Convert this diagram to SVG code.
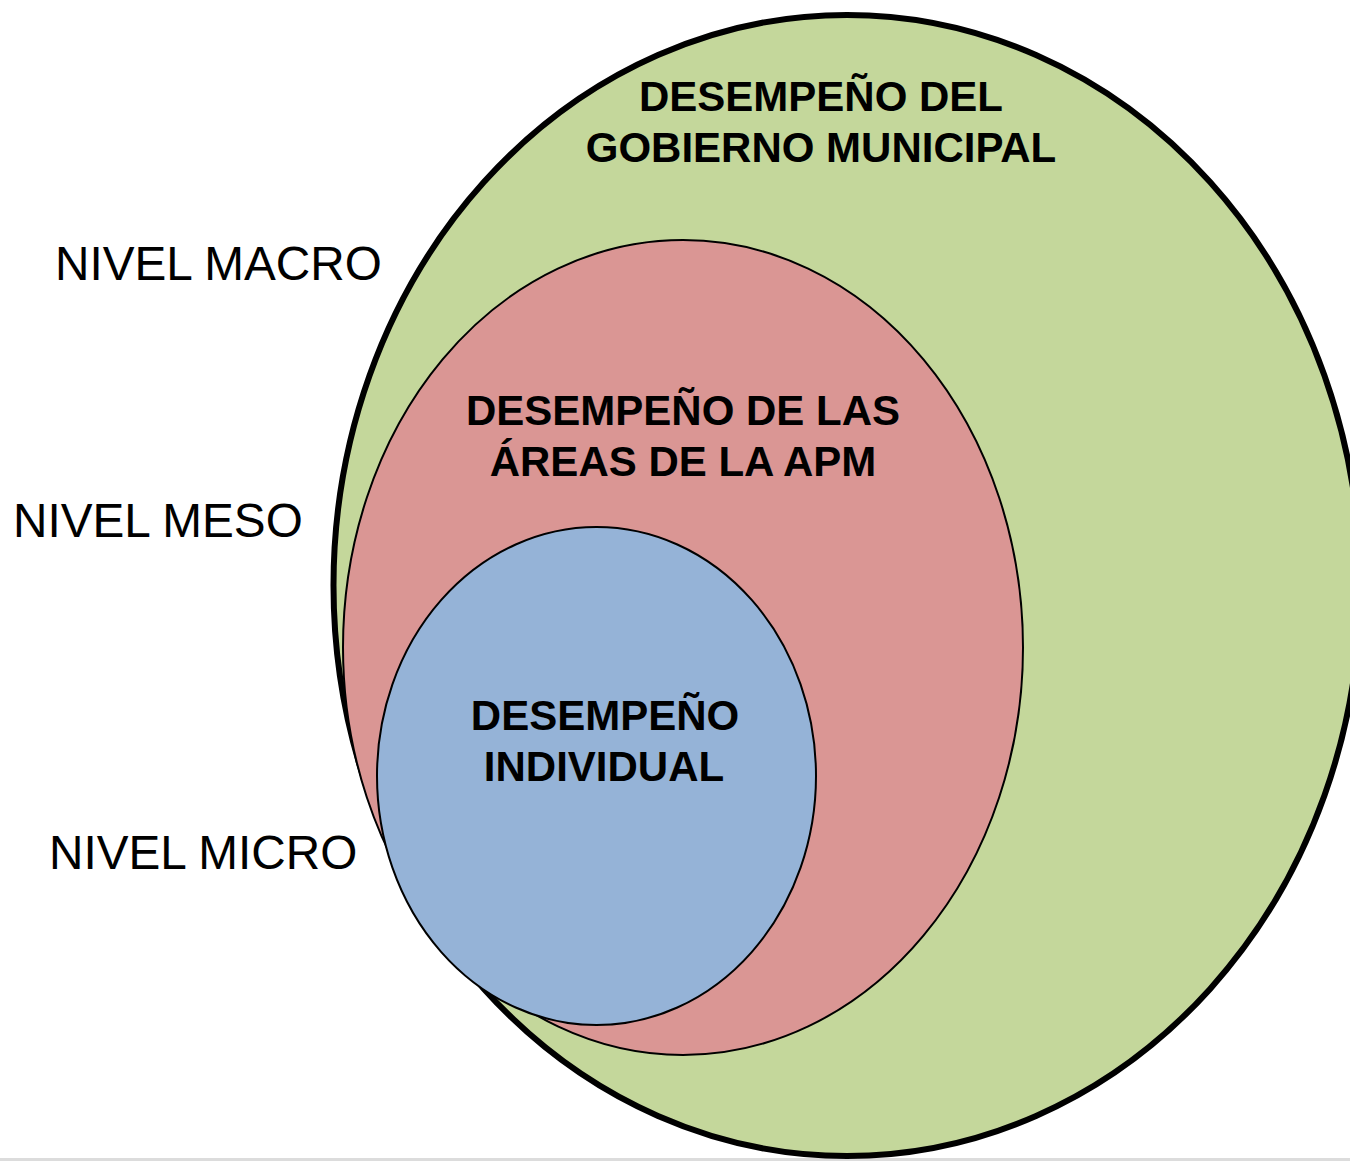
<svg xmlns="http://www.w3.org/2000/svg" width="1350" height="1161" viewBox="0 0 1350 1161">
  <style>
    .lvl { font-family: "Liberation Sans", Arial, sans-serif; font-size: 47.7px; fill: #000; }
    .ttl { font-family: "Liberation Sans", Arial, sans-serif; font-size: 42px; font-weight: bold; fill: #000; text-anchor: middle; }
    .thin { stroke: #000; stroke-width: 2; }
  </style>
  <rect x="0" y="0" width="1350" height="1161" fill="#ffffff"/>
  <rect x="0" y="1158" width="1350" height="3" fill="#dcdcdc"/>
  <g id="macro">
    <ellipse cx="847" cy="585.5" rx="513.5" ry="570.5" fill="#C4D79B" stroke="#000" stroke-width="6"/>
    <text class="ttl" x="821" y="111">DESEMPEÑO DEL</text>
    <text class="ttl" x="821" y="162">GOBIERNO MUNICIPAL</text>
  </g>
  <g id="meso">
    <ellipse cx="683" cy="647.5" rx="340" ry="407.5" fill="#DA9694" class="thin"/>
    <text class="ttl" x="683" y="425">DESEMPEÑO DE LAS</text>
    <text class="ttl" x="683" y="476">ÁREAS DE LA APM</text>
  </g>
  <g id="micro">
    <ellipse cx="596.5" cy="776" rx="219.5" ry="249" fill="#95B3D7" class="thin"/>
    <text class="ttl" x="605" y="730">DESEMPEÑO</text>
    <text class="ttl" x="604" y="781">INDIVIDUAL</text>
  </g>
  <g id="labels">
    <text class="lvl" x="55" y="280">NIVEL MACRO</text>
    <text class="lvl" x="13" y="537">NIVEL MESO</text>
    <text class="lvl" x="49" y="869">NIVEL MICRO</text>
  </g>
  <g id="connectors"/>
</svg>
